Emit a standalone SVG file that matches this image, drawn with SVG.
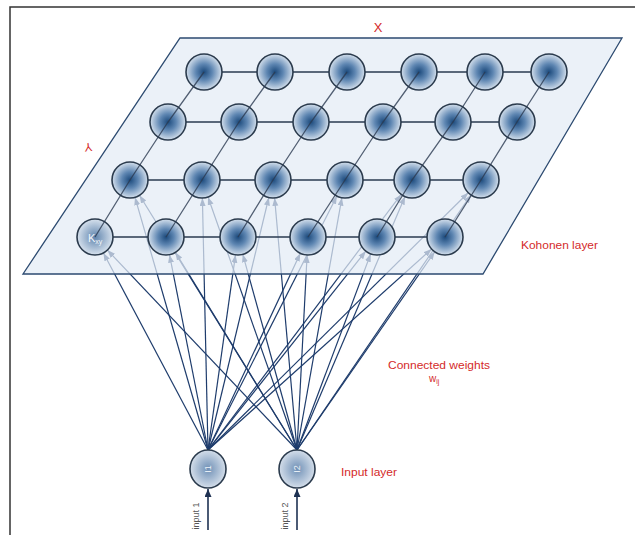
<svg xmlns="http://www.w3.org/2000/svg" width="635" height="535" viewBox="0 0 635 535">
<defs>
<radialGradient id="ng" cx="50%" cy="50%" r="50%">
<stop offset="0" stop-color="#1c4a7c"/>
<stop offset="0.45" stop-color="#5e86b2"/>
<stop offset="1" stop-color="#d3dfec"/>
</radialGradient>
<radialGradient id="kg" cx="50%" cy="50%" r="50%">
<stop offset="0" stop-color="#5f84ad"/>
<stop offset="1" stop-color="#d6e1ed"/>
</radialGradient>
<radialGradient id="ig" cx="50%" cy="50%" r="50%">
<stop offset="0" stop-color="#6f90b6"/>
<stop offset="1" stop-color="#d4deea"/>
</radialGradient>
<marker id="ah" markerUnits="userSpaceOnUse" markerWidth="9" markerHeight="7" refX="8" refY="3" orient="auto">
<path d="M0,0 L8,3 L0,6 z" fill="#1e3c6c"/>
</marker>
<marker id="ahi" markerUnits="userSpaceOnUse" markerWidth="9" markerHeight="8" refX="8" refY="3.5" orient="auto">
<path d="M0,0 L8,3.5 L0,7 z" fill="#1e3152"/>
</marker>
</defs>
<style>
.frame{stroke:#333;stroke-width:1.5;fill:none}
.conn{stroke:#1e3c6c;stroke-width:1.2;fill:none}
.plane{fill:#e3ebf5;fill-opacity:0.72;stroke:#2c4a70;stroke-width:1.3}
.grid{stroke:#2a3a50;stroke-width:1.4;fill:none}
.diag{stroke:#2a3a50;stroke-width:1.3;stroke-opacity:0.8;fill:none}
.node{fill:url(#ng);stroke:#2b3b4d;stroke-width:1.6}
.inode{fill:url(#ig);stroke:#2b3b4d;stroke-width:1.6}
.lbl{font-family:"Liberation Sans",Arial,sans-serif;fill:#d42a2a}
.small{font-family:"Liberation Sans",Arial,sans-serif;fill:#555;font-size:9px}
.inarrow{stroke:#1e3152;stroke-width:1.6;fill:none}
</style>
<path class="frame" d="M10,535 L10,7 L635,7"/>
<g id="connectors">
<line class="conn" marker-end="url(#ah)" x1="208" y1="450" x2="103.4" y2="252.9"/>
<line class="conn" marker-end="url(#ah)" x1="208" y1="450" x2="169.5" y2="254.7"/>
<line class="conn" marker-end="url(#ah)" x1="208" y1="450" x2="235.5" y2="254.8"/>
<line class="conn" marker-end="url(#ah)" x1="208" y1="450" x2="300.3" y2="253.3"/>
<line class="conn" marker-end="url(#ah)" x1="208" y1="450" x2="365.8" y2="251.1"/>
<line class="conn" marker-end="url(#ah)" x1="208" y1="450" x2="431.6" y2="249.0"/>
<line class="conn" marker-end="url(#ah)" x1="208" y1="450" x2="135.0" y2="197.3"/>
<line class="conn" marker-end="url(#ah)" x1="208" y1="450" x2="202.4" y2="198.0"/>
<line class="conn" marker-end="url(#ah)" x1="208" y1="450" x2="268.8" y2="197.5"/>
<line class="conn" marker-end="url(#ah)" x1="208" y1="450" x2="336.9" y2="196.1"/>
<line class="conn" marker-end="url(#ah)" x1="208" y1="450" x2="401.2" y2="194.4"/>
<line class="conn" marker-end="url(#ah)" x1="208" y1="450" x2="468.2" y2="192.7"/>
<line class="conn" marker-end="url(#ah)" x1="297" y1="450" x2="107.4" y2="250.1"/>
<line class="conn" marker-end="url(#ah)" x1="297" y1="450" x2="175.4" y2="252.3"/>
<line class="conn" marker-end="url(#ah)" x1="297" y1="450" x2="242.8" y2="254.3"/>
<line class="conn" marker-end="url(#ah)" x1="297" y1="450" x2="307.1" y2="255.0"/>
<line class="conn" marker-end="url(#ah)" x1="297" y1="450" x2="370.7" y2="253.9"/>
<line class="conn" marker-end="url(#ah)" x1="297" y1="450" x2="434.7" y2="251.8"/>
<line class="conn" marker-end="url(#ah)" x1="297" y1="450" x2="139.5" y2="195.3"/>
<line class="conn" marker-end="url(#ah)" x1="297" y1="450" x2="208.0" y2="197.0"/>
<line class="conn" marker-end="url(#ah)" x1="297" y1="450" x2="274.6" y2="197.9"/>
<line class="conn" marker-end="url(#ah)" x1="297" y1="450" x2="341.9" y2="197.7"/>
<line class="conn" marker-end="url(#ah)" x1="297" y1="450" x2="405.0" y2="196.6"/>
<line class="conn" marker-end="url(#ah)" x1="297" y1="450" x2="470.9" y2="194.9"/>
<line class="inarrow" marker-end="url(#ahi)" x1="208" y1="530" x2="208" y2="489"/>
<line class="inarrow" marker-end="url(#ahi)" x1="297" y1="530" x2="297" y2="489"/>
</g>
<g id="kohonen-plane">
<polygon class="plane" points="180,38 622,38 483,274 23,274"/>
</g>
<g id="grid">
<polyline class="grid" points="204,72 549,72"/>
<polyline class="grid" points="168,122 517,122"/>
<polyline class="grid" points="130,180 481,180"/>
<polyline class="grid" points="95,237 445,237"/>
</g>
<g id="kohonen-nodes">
<g id="k-1-1"><circle class="node" cx="204" cy="72" r="18"/></g>
<g id="k-1-2"><circle class="node" cx="275" cy="72" r="18"/></g>
<g id="k-1-3"><circle class="node" cx="347" cy="72" r="18"/></g>
<g id="k-1-4"><circle class="node" cx="419" cy="72" r="18"/></g>
<g id="k-1-5"><circle class="node" cx="485" cy="72" r="18"/></g>
<g id="k-1-6"><circle class="node" cx="549" cy="72" r="18"/></g>
<g id="k-2-1"><circle class="node" cx="168" cy="122" r="18"/></g>
<g id="k-2-2"><circle class="node" cx="239" cy="122" r="18"/></g>
<g id="k-2-3"><circle class="node" cx="311" cy="122" r="18"/></g>
<g id="k-2-4"><circle class="node" cx="383" cy="122" r="18"/></g>
<g id="k-2-5"><circle class="node" cx="453" cy="122" r="18"/></g>
<g id="k-2-6"><circle class="node" cx="517" cy="122" r="18"/></g>
<g id="k-3-1"><circle class="node" cx="130" cy="180" r="18"/></g>
<g id="k-3-2"><circle class="node" cx="202" cy="180" r="18"/></g>
<g id="k-3-3"><circle class="node" cx="273" cy="180" r="18"/></g>
<g id="k-3-4"><circle class="node" cx="345" cy="180" r="18"/></g>
<g id="k-3-5"><circle class="node" cx="412" cy="180" r="18"/></g>
<g id="k-3-6"><circle class="node" cx="481" cy="180" r="18"/></g>
<g id="k-4-1"><circle cx="95" cy="237" r="18" fill="url(#kg)" stroke="#2b3b4d" stroke-width="1.6"/></g>
<g id="k-4-2"><circle class="node" cx="166" cy="237" r="18"/></g>
<g id="k-4-3"><circle class="node" cx="238" cy="237" r="18"/></g>
<g id="k-4-4"><circle class="node" cx="308" cy="237" r="18"/></g>
<g id="k-4-5"><circle class="node" cx="377" cy="237" r="18"/></g>
<g id="k-4-6"><circle class="node" cx="445" cy="237" r="18"/></g>
</g>
<g id="grid-diagonals">
<polyline class="diag" points="95,237 130,180 168,122 204,72"/>
<polyline class="diag" points="166,237 202,180 239,122 275,72"/>
<polyline class="diag" points="238,237 273,180 311,122 347,72"/>
<polyline class="diag" points="308,237 345,180 383,122 419,72"/>
<polyline class="diag" points="377,237 412,180 453,122 485,72"/>
<polyline class="diag" points="445,237 481,180 517,122 549,72"/>
</g>
<g id="k-label">
<text x="88" y="242" font-family="Liberation Sans,Arial,sans-serif" font-size="11" fill="#f2f6fa">K<tspan font-size="7" dy="2">xy</tspan></text>
</g>
<g id="input-1">
<ellipse class="inode" cx="208" cy="469" rx="18" ry="19"/>
<text transform="translate(211,469) rotate(-90)" text-anchor="middle" font-family="Liberation Sans,Arial,sans-serif" font-size="9" fill="#eef3f8">I1</text>
<text class="small" transform="translate(199,516) rotate(-90)" text-anchor="middle">input 1</text>
</g>
<g id="input-2">
<ellipse class="inode" cx="297" cy="469" rx="18" ry="19"/>
<text transform="translate(300,469) rotate(-90)" text-anchor="middle" font-family="Liberation Sans,Arial,sans-serif" font-size="9" fill="#eef3f8">I2</text>
<text class="small" transform="translate(288,516) rotate(-90)" text-anchor="middle">input 2</text>
</g>
<g id="labels">
<text class="lbl" x="378" y="32" font-size="13" text-anchor="middle">X</text>
<text class="lbl" transform="translate(88,143) rotate(175)" font-size="12" text-anchor="middle">Y</text>
<text class="lbl" x="521" y="249" font-size="11" textLength="77" lengthAdjust="spacingAndGlyphs">Kohonen layer</text>
<text class="lbl" x="388" y="369" font-size="11" textLength="102" lengthAdjust="spacingAndGlyphs">Connected weights</text>
<text class="lbl" x="429" y="382" font-size="10">w<tspan font-size="7" dy="2">ij</tspan></text>
<text class="lbl" x="341" y="476" font-size="11" textLength="56" lengthAdjust="spacingAndGlyphs">Input layer</text>
</g>
</svg>
